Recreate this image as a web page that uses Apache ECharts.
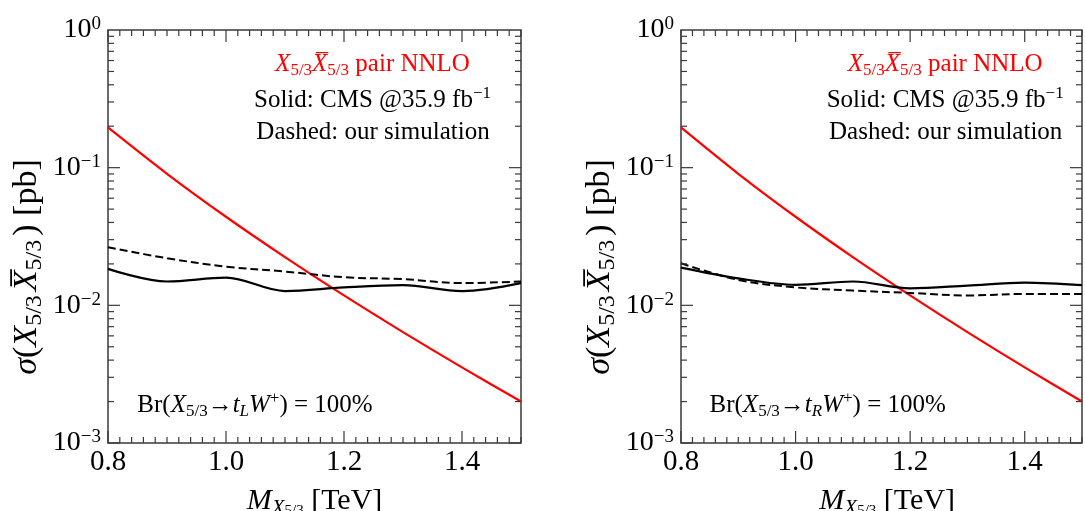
<!DOCTYPE html>
<html><head><meta charset="utf-8">
<script src="https://cdn.jsdelivr.net/npm/echarts@6/dist/echarts.min.js"></script>
<style>html,body{margin:0;padding:0;background:#fff}#c{width:1085px;height:511px}</style>
</head><body><div id="c"></div>
<script>
// ---- data ----
const masses     = [0.8, 0.9, 1.0, 1.1, 1.2, 1.3, 1.4, 1.5];
const nnloXsec   = [0.196, 0.0903, 0.0440, 0.0224, 0.0118, 0.00639, 0.00354, 0.00200];
const cmsLeft    = [0.0184, 0.0149, 0.0159, 0.0127, 0.0135, 0.0140, 0.0127, 0.0145];
const simLeft    = [0.0264, 0.0220, 0.0191, 0.0176, 0.0160, 0.0155, 0.0145, 0.0149];
const cmsRight   = [0.0188, 0.0157, 0.0141, 0.0149, 0.0133, 0.0139, 0.0146, 0.0140];
const simRight   = [0.0202, 0.0153, 0.0135, 0.0128, 0.0123, 0.0118, 0.0121, 0.0121];
const xTickLabels = [0.8, 1.0, 1.2, 1.4];
const yDecades    = [0.001, 0.01, 0.1, 1];
const yExpLabels  = ['\u22123', '\u22122', '\u22121', '0'];
const panelTags   = ['L', 'R'];

// ---- layout ----
const FONT = "'Liberation Serif','Times New Roman',serif";
const AX = '#3a3a3a';
const grids = [{left:108, top:30, width:413, height:413}, {left:681, top:30, width:413, height:413}];
const DX = 572.7;

function pairs(ys){ return masses.map((m,i)=>[m, ys[i]]); }

function tickSeries(gi){
  return {
    type:'custom', xAxisIndex:gi, yAxisIndex:gi, silent:true, z:6, clip:false,
    data:[[0.8, 0.001]],
    renderItem:(params, api)=>{
      const ch=[];
      const p0=api.coord([0.8,0.001]), p1=api.coord([1.5,1]);
      const L=p0[0], B=p0[1], R=p1[0], T=p1[1];
      const st={stroke:AX, lineWidth:1.2};
      for(let k=0;k<=35;k++){
        const v=0.8+k*0.02;
        const x=api.coord([v,0.001])[0];
        const major = (k%10===0);
        const len = major?12:6;
        ch.push({type:'line', shape:{x1:x,y1:B,x2:x,y2:B-len}, style:st});
        ch.push({type:'line', shape:{x1:x,y1:T,x2:x,y2:T+len}, style:st});
      }
      for(let d=0; d<3; d++){
        const base=yDecades[d];
        for(let m=1;m<=9;m++){
          const y=api.coord([0.8, base*m])[1];
          const len = (m===1)?12:6;
          ch.push({type:'line', shape:{x1:L,y1:y,x2:L+len,y2:y}, style:st});
          ch.push({type:'line', shape:{x1:R,y1:y,x2:R-len,y2:y}, style:st});
        }
      }
      return {type:'group', children:ch};
    }
  };
}

const chart = echarts.init(document.getElementById('c'), null, {renderer:'canvas'});

const xAxes = [0,1].map(i=>({
  gridIndex:i, type:'value', min:0.8, max:1.5, interval:0.2,
  axisLine:{show:false}, axisTick:{show:false}, splitLine:{show:false},
  axisLabel:{fontFamily:FONT, fontSize:29, color:'#000', margin:5,
    formatter:v=> xTickLabels.some(t=>Math.abs(t-v)<1e-6) ? v.toFixed(1) : ''}
}));
const yAxes = [0,1].map(i=>({
  gridIndex:i, type:'log', logBase:10, min:0.001, max:1,
  axisLine:{show:false}, axisTick:{show:false}, splitLine:{show:false},
  axisLabel:{margin:7, color:'#000',
    formatter:v=>{ const e=Math.round(Math.log10(v)); const idx=yDecades.findIndex(d=>Math.abs(Math.log10(d)-e)<1e-6); return '{b|10}{s|'+yExpLabels[idx]+'}'; },
    rich:{ b:{fontFamily:FONT, fontSize:28, color:'#000', lineHeight:30},
           s:{fontFamily:FONT, fontSize:19, color:'#000', verticalAlign:'top', lineHeight:19} } }
}));

const richMain = {
  i:{fontFamily:FONT, fontStyle:'italic', fontSize:25, lineHeight:30},
  n:{fontFamily:FONT, fontSize:25, lineHeight:30},
  sub:{fontFamily:FONT, fontSize:17, verticalAlign:'bottom', lineHeight:17},
  subi:{fontFamily:FONT, fontStyle:'italic', fontSize:17, verticalAlign:'bottom', lineHeight:17},
  sup:{fontFamily:FONT, fontSize:17, verticalAlign:'top', lineHeight:17}
};
function colorRich(c){ const o={}; for(const k in richMain){ o[k]=Object.assign({}, richMain[k], {fill:c}); } return o; }

const richYTitle = {
  i:{fontFamily:FONT, fontStyle:'italic', fontSize:34, lineHeight:40, fill:'#000'},
  n:{fontFamily:FONT, fontSize:34, lineHeight:40, fill:'#000'},
  subn:{fontFamily:FONT, fontSize:24, verticalAlign:'bottom', lineHeight:24, fill:'#000', padding:[0,4,0,0]}
};
const richXTitle = {
  i:{fontFamily:FONT, fontStyle:'italic', fontSize:30, lineHeight:35, fill:'#000'},
  n:{fontFamily:FONT, fontSize:30, lineHeight:35, fill:'#000'},
  sub:{fontFamily:FONT, fontStyle:'italic', fontSize:21, verticalAlign:'bottom', lineHeight:21, fill:'#000'},
  ss:{fontFamily:FONT, fontSize:15, verticalAlign:'bottom', lineHeight:8, fill:'#000'}
};

const graphics=[];
[0,1].forEach(p=>{
  const o=p*DX;
  graphics.push({type:'text', x:372.5+o, y:64, silent:true, style:{
    text:'{i|X}{sub|5/3}{i|X\u0305}{sub|5/3}{n| pair NNLO}', align:'center', verticalAlign:'middle', rich:colorRich('#ff0000')}});
  graphics.push({type:'text', x:372.5+o, y:100, silent:true, style:{
    text:'{n|Solid: CMS @35.9 fb}{sup|\u22121}', align:'center', verticalAlign:'middle', rich:colorRich('#000')}});
  graphics.push({type:'text', x:373+o, y:132, silent:true, style:{
    text:'{n|Dashed: our simulation}', align:'center', verticalAlign:'middle', rich:colorRich('#000')}});
  graphics.push({type:'text', x:255+o, y:405, silent:true, style:{
    text:'{n|Br(}{i|X}{sub|5/3}{n|\u2192}{i|t}{subi|'+panelTags[p]+'}{i|W}{sup|+}{n|) = 100%}', align:'center', verticalAlign:'middle', rich:colorRich('#000')}});
  graphics.push({type:'text', x:27+o, y:267, rotation:Math.PI/2, silent:true, style:{
    text:'{i|\u03c3}{n|(}{i|X}{subn|5/3}{i|X\u0305}{subn|5/3}{n|) [pb]}', align:'center', verticalAlign:'middle', rich:richYTitle}});
  graphics.push({type:'text', x:314.5+o, y:501, silent:true, style:{
    text:'{i|M}{sub|X}{ss|5/3}{n| [TeV]}', align:'center', verticalAlign:'middle', rich:richXTitle}});
});

const series=[];
[[cmsLeft,simLeft],[cmsRight,simRight]].forEach((pair,gi)=>{
  series.push({type:'line', xAxisIndex:gi, yAxisIndex:gi, data:pairs(nnloXsec), smooth:0.3, symbol:'none',
    lineStyle:{color:'#ff0000', width:2.2}, z:3});
  series.push({type:'line', xAxisIndex:gi, yAxisIndex:gi, data:pairs(pair[0]), smooth:0.35, symbol:'none',
    lineStyle:{color:'#000', width:2.2}, z:3});
  series.push({type:'line', xAxisIndex:gi, yAxisIndex:gi, data:pairs(pair[1]), smooth:0.35, symbol:'none',
    lineStyle:{color:'#000', width:2, type:[8,4]}, z:3});
  series.push(tickSeries(gi));
});

chart.setOption({
  animation:false, backgroundColor:'#fff',
  grid:grids.map(g=>Object.assign({show:true, borderColor:AX, borderWidth:1.5, backgroundColor:'transparent'}, g)),
  xAxis:xAxes, yAxis:yAxes, series:series, graphic:graphics
});
</script></body></html>
